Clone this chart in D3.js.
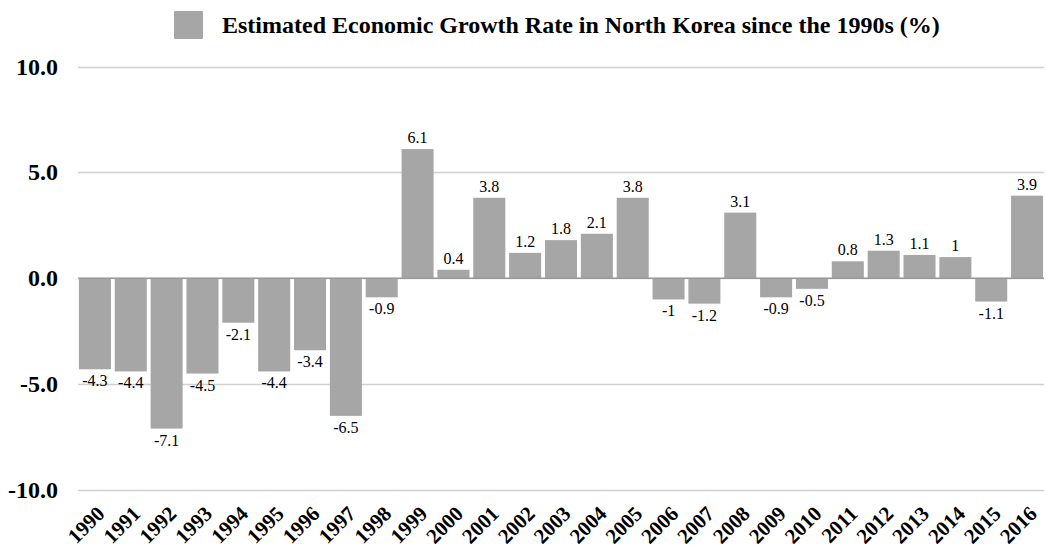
<!DOCTYPE html>
<html>
<head>
<meta charset="utf-8">
<script src="https://cdn.jsdelivr.net/npm/d3@7"></script>
<style>
  body { margin: 0; background: #fff; }
  text { font-family: "Liberation Serif", "Times New Roman", serif; }
</style>
</head>
<body>
<div id="chart"></div>
<script>
// data
var years = ["1990","1991","1992","1993","1994","1995","1996","1997","1998","1999",
  "2000","2001","2002","2003","2004","2005","2006","2007","2008","2009",
  "2010","2011","2012","2013","2014","2015","2016"]
var growth = [-4.3,-4.4,-7.1,-4.5,-2.1,-4.4,-3.4,-6.5,-0.9,6.1,
  0.4,3.8,1.2,1.8,2.1,3.8,-1,-1.2,3.1,-0.9,
  -0.5,0.8,1.3,1.1,1,-1.1,3.9]
var yTicks = [-10, -5, 0, 5, 10]
var seriesName = "Estimated Economic Growth Rate in North Korea since the 1990s (%)"

var data = years.map(function(y, i) { return {year: y, value: growth[i]} })

var W = 1046, H = 554
var svg = d3.select("#chart").append("svg")
  .attr("width", W).attr("height", H)

var x = d3.scaleBand()
  .domain(years)
  .range([77, 1045])
  .paddingInner(0.107)
  .paddingOuter(0.0535)

var y = d3.scaleLinear()
  .domain([-10, 10])
  .range([490, 66.5])

// gridlines
svg.append("g").selectAll("line")
  .data(yTicks).enter()
  .append("line")
    .attr("x1", 78).attr("x2", 1044)
    .attr("y1", function(d) { return Math.round(y(d)) + 0.5 })
    .attr("y2", function(d) { return Math.round(y(d)) + 0.5 })
    .style("stroke", "#d0d0d0")
    .style("stroke-width", 1.5)

// y labels (plain hyphen, like the original)
svg.append("g").selectAll("text")
  .data(yTicks).enter()
  .append("text")
    .attr("x", 58)
    .attr("y", function(d) { return y(d) + 8 })
    .attr("text-anchor", "end")
    .style("font-size", "24px")
    .style("font-weight", "bold")
    .text(function(d) { return d.toFixed(1) })

// bars
svg.append("g").selectAll("rect")
  .data(data).enter()
  .append("rect")
    .attr("x", function(d) { return x(d.year) })
    .attr("width", x.bandwidth())
    .attr("y", function(d) { return y(Math.max(0, d.value)) })
    .attr("height", function(d) { return Math.abs(y(d.value) - y(0)) })
    .style("fill", "#a6a6a6")

// zero line
svg.append("line")
  .attr("x1", 78).attr("x2", 1044)
  .attr("y1", y(0)).attr("y2", y(0))
  .style("stroke", "#9a9a9a")
  .style("stroke-width", 1.5)

// value labels
svg.append("g").selectAll("text")
  .data(data).enter()
  .append("text")
    .attr("x", function(d) { return x(d.year) + x.bandwidth() / 2 })
    .attr("y", function(d) { return d.value >= 0 ? y(d.value) - 6 : y(d.value) + 17 })
    .attr("text-anchor", "middle")
    .style("font-size", "16px")
    .text(function(d) { return d.value })

// x labels
svg.append("g").selectAll("text")
  .data(years).enter()
  .append("text")
    .attr("text-anchor", "end")
    .attr("transform", function(d) {
      return "translate(" + (x(d) + x.bandwidth() / 2 + 11) + ",515) rotate(-45)"
    })
    .style("font-size", "21px")
    .style("font-weight", "bold")
    .text(function(d) { return d })

// legend
var legend = svg.append("g")
legend.append("rect")
  .attr("x", 174).attr("y", 11)
  .attr("width", 29).attr("height", 28)
  .attr("rx", 1)
  .style("fill", "#a6a6a6")
legend.append("text")
  .attr("x", 222).attr("y", 33)
  .style("font-size", "24px")
  .style("font-weight", "bold")
  .text(seriesName)
</script>
</body>
</html>
